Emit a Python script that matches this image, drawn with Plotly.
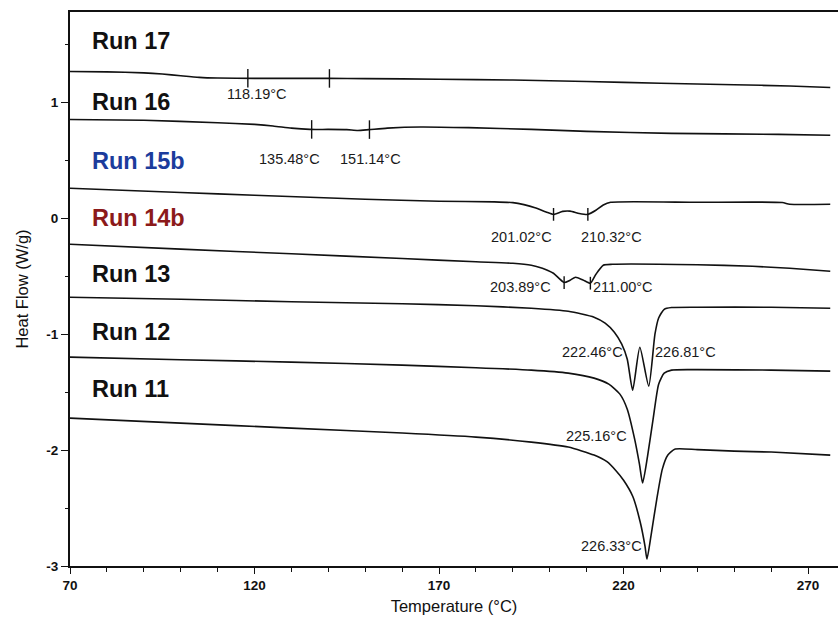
import numpy as np
import plotly.graph_objects as go

# ---- DSC heating scans: temperature (°C) and heat flow (W/g) ----
t_run17 = [70, 80, 90, 95, 100, 105, 110, 120, 130, 140, 150, 170, 190, 210, 230, 250, 265, 276]
hf_run17 = [1.267, 1.263, 1.255, 1.245, 1.230, 1.216, 1.210, 1.207, 1.207, 1.207, 1.205, 1.200,
            1.193, 1.180, 1.165, 1.152, 1.142, 1.129]

t_run16 = [70, 90, 110, 120, 125, 130, 135, 140, 145, 148, 151, 156, 165, 178, 195, 210, 233, 262, 276]
hf_run16 = [0.853, 0.846, 0.825, 0.810, 0.797, 0.778, 0.767, 0.767, 0.765, 0.758, 0.765, 0.778,
            0.788, 0.782, 0.767, 0.750, 0.733, 0.724, 0.716]

t_run15b = [70, 100, 120, 150, 170, 185, 190, 193, 196, 199, 201.02, 203.5, 205.5, 208, 210.32,
            212.5, 214.5, 216.5, 240, 263, 265, 276]
hf_run15b = [0.259, 0.223, 0.199, 0.164, 0.147, 0.142, 0.135, 0.118, 0.092, 0.055, 0.034, 0.060,
             0.062, 0.042, 0.034, 0.069, 0.115, 0.138, 0.138, 0.136, 0.121, 0.121]

t_run14b = [70, 100, 130, 160, 180, 190, 195, 198, 199.5, 201, 203.89, 205.5, 207, 209, 211,
            212.5, 214.5, 217, 240, 255, 265, 276]
hf_run14b = [-0.224, -0.266, -0.306, -0.347, -0.375, -0.388, -0.405, -0.431, -0.450, -0.474, -0.554,
             -0.534, -0.509, -0.532, -0.560, -0.483, -0.405, -0.397, -0.401, -0.414, -0.431, -0.457]

t_run13 = [70, 100, 130, 160, 180, 195, 205, 212, 215, 217.5, 219.5, 221, 222.46, 224.4, 226.81,
           228.5, 229.5, 231, 233, 240, 260, 276]
hf_run13 = [-0.681, -0.698, -0.720, -0.737, -0.754, -0.776, -0.802, -0.853, -0.905, -0.983, -1.086,
            -1.216, -1.483, -1.112, -1.448, -1.000, -0.860, -0.785, -0.770, -0.767, -0.767, -0.776]

t_run12 = [70, 100, 130, 160, 180, 195, 205, 212, 216, 219, 221, 223, 224.3, 225.16, 226.5, 228,
           229.5, 231, 233, 240, 260, 276]
hf_run12 = [-1.198, -1.220, -1.241, -1.267, -1.289, -1.310, -1.336, -1.379, -1.431, -1.517, -1.647,
            -1.905, -2.121, -2.284, -2.052, -1.733, -1.431, -1.336, -1.310, -1.306, -1.310, -1.319]

t_run11 = [70, 100, 130, 160, 180, 195, 205, 212, 215.5, 218, 220, 222.5, 224.5, 225.8, 226.33,
           227.5, 229, 230.5, 232, 234, 240, 250, 260, 276]
hf_run11 = [-1.724, -1.767, -1.810, -1.853, -1.888, -1.931, -1.974, -2.043, -2.100, -2.180, -2.260,
            -2.400, -2.620, -2.828, -2.940, -2.724, -2.422, -2.164, -2.043, -1.991, -1.996, -2.009,
            -2.017, -2.043]

run_names = ["Run 17", "Run 16", "Run 15b", "Run 14b", "Run 13", "Run 12", "Run 11"]
run_temps = [t_run17, t_run16, t_run15b, t_run14b, t_run13, t_run12, t_run11]
run_flows = [hf_run17, hf_run16, hf_run15b, hf_run14b, hf_run13, hf_run12, hf_run11]

# transition temperatures marked on the scans (°C)
events_run17 = [118.19, 140.3]     # only the first one carries a label
events_run16 = [135.48, 151.14]
events_run15b = [201.02, 210.32]
events_run14b = [203.89, 211.00]
events_run13 = [222.46, 226.81]
events_run12 = [225.16]
events_run11 = [226.33]

y_ticks = [-3, -2, -1, 0, 1]
x_ticks = [70, 120, 170, 220, 270]

# ---- styling / placement ----
name_colors = ["#111111", "#111111", "#1c3c9c", "#8c1a1a", "#111111", "#111111", "#111111"]
name_y = [1.526, 1.0, 0.491, 0.0, -0.483, -0.983, -1.474]
name_x = 75.4
# (temperature offset, heat-flow position) of each value label
label_pos_run17 = [(2.5, 1.069)]
label_pos_run16 = [(-5.9, 0.509), (0.2, 0.509)]
label_pos_run15b = [(-8.8, -0.164), (6.3, -0.164)]
label_pos_run14b = [(-11.7, -0.595), (8.9, -0.595)]
label_pos_run13 = [(-10.8, -1.155), (9.9, -1.155)]
label_pos_run12 = [(-12.4, -1.879)]
label_pos_run11 = [(-9.7, -2.828)]

FONT = "Arial, Liberation Sans, sans-serif"
INK = "#111111"

fig = go.Figure()

for t, hf in zip(run_temps, run_flows):
    fig.add_trace(go.Scatter(x=t, y=hf, mode="lines",
                             line=dict(color=INK, width=1.6, shape="spline", smoothing=0.6),
                             hoverinfo="skip", showlegend=False))

# short vertical markers at the analysed temperatures
marker_sets = [(t_run17, hf_run17, events_run17, 0.08),
               (t_run16, hf_run16, events_run16, 0.08),
               (t_run15b, hf_run15b, events_run15b, 0.055),
               (t_run14b, hf_run14b, events_run14b, 0.055)]
for t, hf, evs, half in marker_sets:
    for ev in evs:
        yv = float(np.interp(ev, t, hf))
        fig.add_trace(go.Scatter(x=[ev, ev], y=[yv - half, yv + half], mode="lines",
                                 line=dict(color=INK, width=1.4),
                                 hoverinfo="skip", showlegend=False))

annotations = []
for name, col, y in zip(run_names, name_colors, name_y):
    annotations.append(dict(x=name_x, y=y, xref="x", yref="y", text="<b>%s</b>" % name,
                            showarrow=False, xanchor="left", yanchor="middle",
                            font=dict(family=FONT, size=23.5, color=col)))

value_labels = [
    (events_run17[:1], label_pos_run17),
    (events_run16, label_pos_run16),
    (events_run15b, label_pos_run15b),
    (events_run14b, label_pos_run14b),
    (events_run13, label_pos_run13),
    (events_run12, label_pos_run12),
    (events_run11, label_pos_run11),
]
for evs, poss in value_labels:
    for ev, (dx, yy) in zip(evs, poss):
        annotations.append(dict(x=ev + dx, y=yy, xref="x", yref="y", text="%.2f°C" % ev,
                                showarrow=False, xanchor="center", yanchor="middle",
                                font=dict(family=FONT, size=14.5, color="#1a1a1a")))

axis_font = dict(family=FONT, size=13.5, color=INK)

fig.update_layout(
    width=838, height=618,
    margin=dict(l=70, r=0, t=12, b=52),
    paper_bgcolor="white", plot_bgcolor="white",
    annotations=annotations,
    xaxis=dict(range=[70, 278.1], tickmode="array", tickvals=x_ticks,
               ticktext=["<b>%d</b>" % v for v in x_ticks],
               ticks="outside", ticklen=6, tickwidth=1.3, tickcolor=INK,
               minor=dict(dtick=10, tick0=70, ticks="outside", ticklen=4, tickwidth=1.1,
                          tickcolor=INK, showgrid=False),
               showgrid=False, zeroline=False, showline=True, linecolor=INK,
               linewidth=2, mirror=True, tickfont=axis_font,
               title=dict(text="Temperature (°C)", standoff=8,
                          font=dict(family=FONT, size=16.5, color=INK))),
    yaxis=dict(range=[-3, 1.78], tickmode="array", tickvals=y_ticks,
               ticktext=["<b>%d</b>" % v for v in y_ticks],
               ticks="outside", ticklen=7, tickwidth=1.3, tickcolor=INK,
               minor=dict(dtick=0.5, tick0=-3, ticks="outside", ticklen=3, tickwidth=1.1,
                          tickcolor=INK, showgrid=False),
               showgrid=False, zeroline=False, showline=True, linecolor=INK,
               linewidth=2, tickfont=axis_font,
               title=dict(text="Heat Flow (W/g)", standoff=14,
                          font=dict(family=FONT, size=16.5, color=INK))),
)

fig.write_html("out.html")
